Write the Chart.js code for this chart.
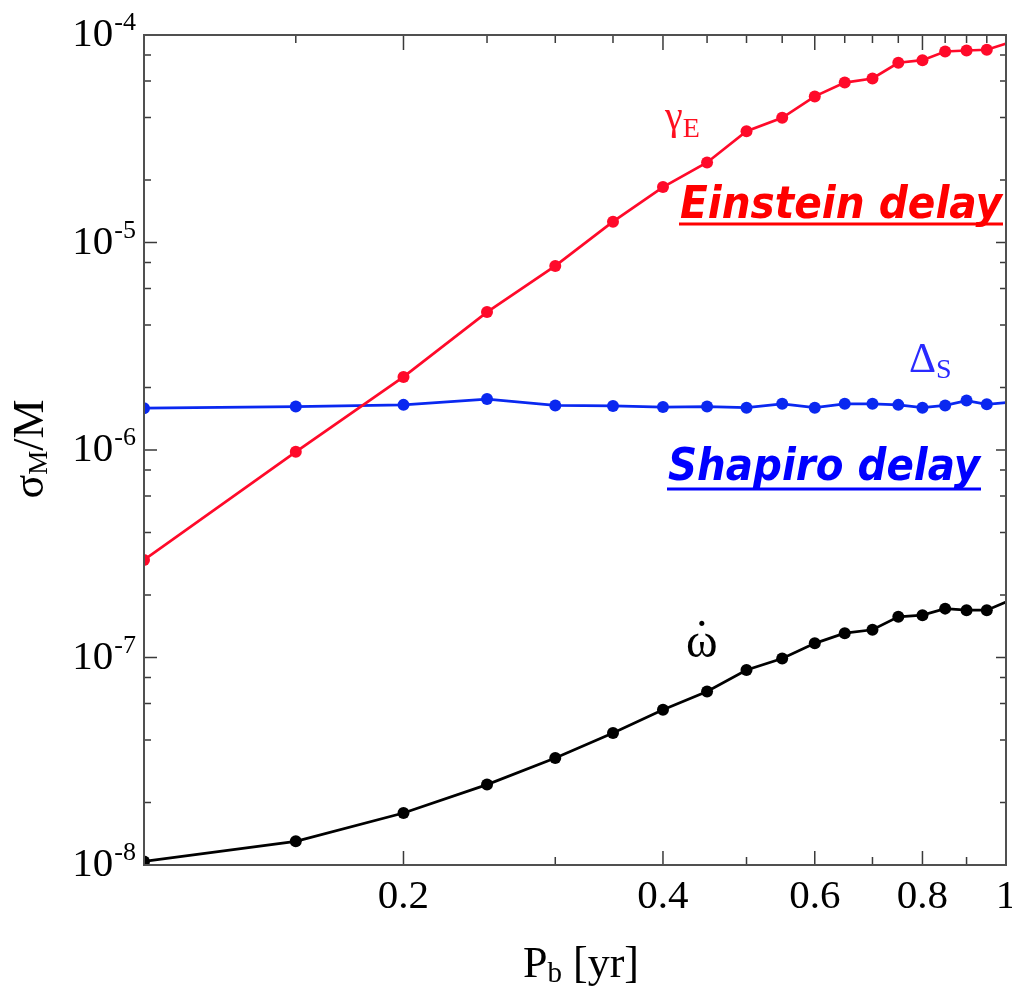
<!DOCTYPE html>
<html>
<head>
<meta charset="utf-8">
<script src="https://cdn.jsdelivr.net/npm/chart.js@4.4.1/dist/chart.umd.min.js"></script>
<style>
  html, body { margin: 0; padding: 0; background: #fff; }
  #wrap { position: relative; width: 1012px; height: 991px; }
  .preload { position: absolute; left: -9999px; top: 0; }
</style>
</head>
<body>
<span class="preload" style="font-family:'Liberation Serif'">0.2 σγΔω˙</span>
<span class="preload" style="font-family:'DejaVu Sans';font-weight:bold;font-style:italic">Einstein</span>
<div id="wrap"><canvas id="massChart"></canvas></div>
<script>
// orbital period in years (last point runs past the right edge)
const periods = [0.1, 0.15, 0.2, 0.25, 0.3, 0.35, 0.4, 0.45, 0.5, 0.55, 0.6, 0.65, 0.7, 0.75, 0.8, 0.85, 0.9, 0.95, 1.05];

// fractional mass error sigma_M / M
const einstein = [2.95e-7, 9.8e-7, 2.25e-6, 4.62e-6, 7.71e-6, 1.26e-5, 1.85e-5, 2.43e-5, 3.44e-5, 3.99e-5,
                  5.06e-5, 5.90e-5, 6.17e-5, 7.35e-5, 7.56e-5, 8.33e-5, 8.42e-5, 8.49e-5, 9.68e-5];
const shapiro  = [1.59e-6, 1.62e-6, 1.65e-6, 1.76e-6, 1.64e-6, 1.63e-6, 1.61e-6, 1.62e-6, 1.60e-6, 1.67e-6,
                  1.60e-6, 1.67e-6, 1.67e-6, 1.65e-6, 1.60e-6, 1.64e-6, 1.73e-6, 1.66e-6, 1.72e-6];
const omegaDot = [1.04e-8, 1.30e-8, 1.78e-8, 2.44e-8, 3.28e-8, 4.33e-8, 5.60e-8, 6.86e-8, 8.70e-8, 9.89e-8,
                  1.17e-7, 1.31e-7, 1.36e-7, 1.57e-7, 1.60e-7, 1.72e-7, 1.69e-7, 1.69e-7, 2.02e-7];

// axis ticks
const yDecades = [1e-8, 1e-7, 1e-6, 1e-5, 1e-4];
const yExponents = ['-8', '-7', '-6', '-5', '-4'];
const yMinorSteps = [2, 4, 6, 8];
const xMajor = [0.2, 0.4, 0.6, 0.8, 1];
const xLabels = ['0.2', '0.4', '0.6', '0.8', '1'];
const xMinorBottom = [0.3, 0.5, 0.7, 0.9];
const xMinorTop = [0.15, 0.25, 0.3, 0.35, 0.45, 0.5, 0.55, 0.65, 0.7, 0.75, 0.85, 0.9, 0.95];

const SERIF = '"Liberation Serif", serif';
const SANS = '"DejaVu Sans", sans-serif';

function toPoints(ys) {
    return periods.map((p, i) => ({ x: p, y: ys[i] }));
}

function series(label, ys, color) {
    return {
        label: label,
        data: toPoints(ys),
        borderColor: color,
        backgroundColor: color,
        borderWidth: 2.7,
        pointRadius: 6,
        pointHoverRadius: 6,
        pointBorderWidth: 0,
        tension: 0,
        clip: 0
    };
}

// base text followed by a smaller lowered one, returns end x
function drawSub(ctx, base, sub, x, y, baseFont, subFont, drop) {
    ctx.font = baseFont;
    ctx.fillText(base, x, y);
    const w = ctx.measureText(base).width;
    ctx.font = subFont;
    ctx.fillText(sub, x + w, y + drop);
    return x + w + ctx.measureText(sub).width;
}

// bold italic label squeezed to a given width, underlined
function drawTag(ctx, text, x, y, width, color, lineY) {
    ctx.save();
    ctx.font = 'italic bold 44px ' + SANS;
    const w = ctx.measureText(text).width;
    ctx.translate(x, y);
    ctx.scale(width / w, 1);
    ctx.fillStyle = color;
    ctx.fillText(text, 0, 0);
    ctx.restore();
    ctx.fillStyle = color;
    ctx.fillRect(x - 1, lineY - 1.5, width + 2, 3);
}

const framePlugin = {
    id: 'frame',
    afterDraw(chart) {
        const ctx = chart.ctx;
        const { left, right, top, bottom } = chart.chartArea;
        const xs = chart.scales.x, ys = chart.scales.y;
        ctx.save();

        // tick marks, pointing inwards on all four sides
        ctx.strokeStyle = '#3a3a3a';
        ctx.lineWidth = 1.5;
        ctx.beginPath();
        yDecades.forEach(d => {
            const y = ys.getPixelForValue(d);
            ctx.moveTo(left, y); ctx.lineTo(left + 13, y);
            ctx.moveTo(right, y); ctx.lineTo(right - 10, y);
            if (d < 1e-4) {
                yMinorSteps.forEach(m => {
                    const ym = ys.getPixelForValue(d * m);
                    ctx.moveTo(left, ym); ctx.lineTo(left + 7, ym);
                    ctx.moveTo(right, ym); ctx.lineTo(right - 6, ym);
                });
            }
        });
        xMajor.forEach(v => {
            const x = xs.getPixelForValue(v);
            ctx.moveTo(x, bottom); ctx.lineTo(x, bottom - 14);
            ctx.moveTo(x, top); ctx.lineTo(x, top + 15);
        });
        xMinorBottom.forEach(v => {
            const x = xs.getPixelForValue(v);
            ctx.moveTo(x, bottom); ctx.lineTo(x, bottom - 8);
        });
        xMinorTop.forEach(v => {
            const x = xs.getPixelForValue(v);
            ctx.moveTo(x, top); ctx.lineTo(x, top + 8);
        });
        ctx.stroke();

        // box
        ctx.strokeStyle = '#505050';
        ctx.lineWidth = 2;
        ctx.strokeRect(left, top, right - left, bottom - top);

        // y tick labels 10^n
        ctx.fillStyle = '#000';
        ctx.textBaseline = 'alphabetic';
        ctx.textAlign = 'left';
        yDecades.forEach((d, i) => {
            const y = ys.getPixelForValue(d);
            ctx.font = '26px ' + SERIF;
            const ew = ctx.measureText(yExponents[i]).width;
            ctx.font = '41px ' + SERIF;
            const bw = ctx.measureText('10').width;
            const x0 = left - 9 - ew - bw;
            ctx.fillText('10', x0, y + 11);
            ctx.font = '26px ' + SERIF;
            ctx.fillText(yExponents[i], x0 + bw + 1, y - 5);
        });

        // x tick labels
        ctx.textAlign = 'center';
        ctx.font = '41px ' + SERIF;
        xMajor.forEach((v, i) => {
            ctx.fillText(xLabels[i], xs.getPixelForValue(v), bottom + 43);
        });

        // axis titles
        ctx.textAlign = 'left';
        ctx.font = '44px ' + SERIF;
        let tw = ctx.measureText('P').width;
        ctx.font = '29px ' + SERIF;
        tw += ctx.measureText('b').width;
        ctx.font = '44px ' + SERIF;
        tw += ctx.measureText(' [yr]').width;
        let tx = 581 - tw / 2;
        tx = drawSub(ctx, 'P', 'b', tx, 977, '44px ' + SERIF, '29px ' + SERIF, 5);
        ctx.font = '44px ' + SERIF;
        ctx.fillText(' [yr]', tx, 977);

        ctx.save();
        ctx.translate(43, 449);
        ctx.rotate(-Math.PI / 2);
        ctx.font = '44px ' + SERIF;
        let yw = ctx.measureText('σ').width + ctx.measureText('/M').width;
        ctx.font = '27px ' + SERIF;
        yw += ctx.measureText('M').width;
        let yx = drawSub(ctx, 'σ', 'M', -yw / 2, 0, '44px ' + SERIF, '27px ' + SERIF, 4);
        ctx.font = '44px ' + SERIF;
        ctx.fillText('/M', yx, 0);
        ctx.restore();

        // curve labels
        ctx.fillStyle = '#ff1020';
        drawSub(ctx, 'γ', 'E', 665, 129, '40px ' + SERIF, '28px ' + SERIF, 8);
        ctx.fillStyle = '#2a2aff';
        drawSub(ctx, 'Δ', 'S', 909, 372, '42px ' + SERIF, '28px ' + SERIF, 6);
        ctx.fillStyle = '#000';
        ctx.font = '48px ' + SERIF;
        ctx.fillText('ω', 686, 657);
        const ow = ctx.measureText('ω').width;
        ctx.textAlign = 'center';
        ctx.fillText('˙', 686 + ow / 2, 657 - 4);
        ctx.textAlign = 'left';

        drawTag(ctx, 'Einstein delay', 680, 218, 322, '#ff0000', 224);
        drawTag(ctx, 'Shapiro delay', 668, 480, 312, '#0000ff', 489);

        ctx.restore();
    }
};

function build() {
    const ctx = document.getElementById('massChart').getContext('2d');
    new Chart(ctx, {
        type: 'line',
        data: {
            datasets: [
                series('Einstein delay', einstein, '#ff0a2a'),
                series('Shapiro delay', shapiro, '#0a28f0'),
                series('omega dot', omegaDot, '#000000')
            ]
        },
        options: {
            responsive: true,
            maintainAspectRatio: false,
            animation: false,
            events: [],
            layout: { padding: { left: 144, top: 35, right: 3, bottom: 126 } },
            plugins: {
                legend: { display: false },
                tooltip: { enabled: false }
            },
            scales: {
                x: { type: 'logarithmic', display: false, min: 0.1, max: 1 },
                y: { type: 'logarithmic', display: false, min: 1e-8, max: 1e-4 }
            }
        },
        plugins: [framePlugin]
    });
}

document.addEventListener('DOMContentLoaded', function () {
    Promise.all([
        document.fonts.load('42px "Liberation Serif"', '0.2σγΔω˙'),
        document.fonts.load('italic bold 44px "DejaVu Sans"', 'Einstein')
    ]).then(build, build);
});
</script>
</body>
</html>
